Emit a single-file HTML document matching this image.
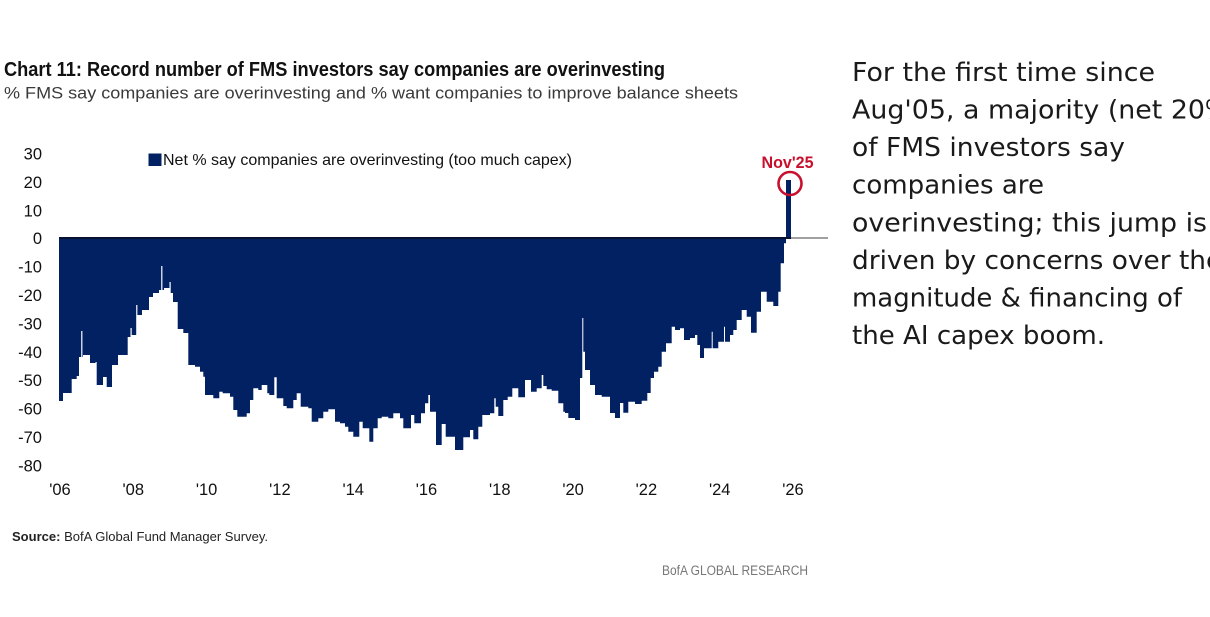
<!DOCTYPE html>
<html>
<head>
<meta charset="utf-8">
<style>
  html,body{margin:0;padding:0;background:#fff;}
  body{width:1210px;height:617px;overflow:hidden;}
  svg{display:block;}
</style>
</head>
<body>
<svg width="1210" height="617" viewBox="0 0 1210 617" xmlns="http://www.w3.org/2000/svg">
  <rect x="0" y="0" width="1210" height="617" fill="#fff"/>

  <!-- Title -->
  <text x="4" y="76" font-family="Liberation Sans, sans-serif" font-weight="bold" font-size="20" fill="#111" textLength="661" lengthAdjust="spacingAndGlyphs">Chart 11: Record number of FMS investors say companies are overinvesting</text>
  <text x="4" y="98.5" font-family="Liberation Sans, sans-serif" font-size="17" fill="#3a3a3a" textLength="734" lengthAdjust="spacingAndGlyphs">% FMS say companies are overinvesting and % want companies to improve balance sheets</text>

  <!-- Legend -->
  <rect x="148.5" y="153.5" width="13" height="12.5" fill="#022163"/>
  <text x="163" y="165" font-family="Liberation Sans, sans-serif" font-size="16" fill="#111" textLength="409" lengthAdjust="spacingAndGlyphs">Net % say companies are overinvesting (too much capex)</text>

  <!-- Y axis labels -->
  <g font-family="Liberation Sans, sans-serif" font-size="16.5" fill="#111" text-anchor="end">
    <text x="42" y="159.5">30</text>
    <text x="42" y="187.9">20</text>
    <text x="42" y="216.3">10</text>
    <text x="42" y="244.2">0</text>
    <text x="42" y="272.6">-10</text>
    <text x="42" y="301">-20</text>
    <text x="42" y="329.4">-30</text>
    <text x="42" y="357.8">-40</text>
    <text x="42" y="386.2">-50</text>
    <text x="42" y="414.6">-60</text>
    <text x="42" y="443">-70</text>
    <text x="42" y="471.4">-80</text>
  </g>

  <!-- X axis labels -->
  <g font-family="Liberation Sans, sans-serif" font-size="16.5" fill="#111" text-anchor="middle">
    <text x="60" y="495">'06</text>
    <text x="133.3" y="495">'08</text>
    <text x="206.6" y="495">'10</text>
    <text x="279.9" y="495">'12</text>
    <text x="353.2" y="495">'14</text>
    <text x="426.5" y="495">'16</text>
    <text x="499.8" y="495">'18</text>
    <text x="573.1" y="495">'20</text>
    <text x="646.4" y="495">'22</text>
    <text x="719.7" y="495">'24</text>
    <text x="793" y="495">'26</text>
  </g>

  <!-- Bars (negative area) -->
  <path fill="#022163" d="M59,238 V401
    H63 V393 H71.7 V379 H76.7 V376 H79 V357 H81.2 V331 H82.4 V357 H83 V355 H90 V363
    H95.5 V362 H96.7 V385 H103 V377 H106.7 V387 H112 V365 H118 V355 H127.7 V337
    H130.5 V328 H131.7 V335 H136.2 V305 H137.4 V315 H142 V310 H149 V297 H153 V293
    H159 V290 H161.2 V266 H162.4 V290 H164 V288 H169.5 V282 H170.7 V293 H173 V302
    H177.7 V329 H183.3 V333 H188.3 V365 H195 V366.7 H200 V371.7 H203.3 V376.7 H205 V395
    H213.3 V398.3 H219.3 V391.7 H222.7 V393.3 H230 V396.7 H233.3 V410 H237.3 V416.7
    H246.7 V413.3 H250 V400 H253.3 V388.3 H258.3 V390 H261.7 V385 H267.3 V393.3
    H269.3 V395 H274.3 V377.3 H276.7 V398.3 H283.3 V406 H286.7 V408.3 H293.3 V400
    H296.7 V393.3 H300.7 V406.7 H308.3 V408.3 H311.7 V421.7 H318.3 V418.3 H323.3 V411.7
    H328.3 V409.3 H335 V421.7 H340 V423.3 H345 V426.7 H348.3 V431.7 H353.3 V436.7
    H359.3 V421.7 H362.7 V428.3 H369.3 V441.7 H373.3 V428.3 H377.7 V418.3 H381.7 V416.7
    H388.3 V418.3 H393.3 V413.3 H400 V418.3 H403.3 V428.3 H411 V415 H414.3 V423.3
    H421 V413.3 H425 V403.3 H428.3 V395 H430 V411.7 H436 V445 H441.7 V424 H445.7 V436.7
    H455 V450 H463.3 V437.3 H470 V430 H473.3 V439.3 H478.3 V426.7 H482.3 V415 H490 V413.3
    H494.3 V398.3 H495.7 V406.7 H498.3 V416 H503.3 V400 H507.7 V396.7 H512.3 V388.3
    H518.3 V397.3 H525 V380 H531 V391.7 H536.7 V388.3 H541.7 V375 H543.3 V386 H546.7 V389.3
    H551.7 V390.7 H558.3 V403.3 H563.3 V411.7 H565 V413 H568.3 V418 H575 V420 H580 V378
    H582.3 V318 H583.3 V351.7 H585 V370 H590 V385 H595 V395 H601.7 V396.7 H610 V413
    H615 V418 H620 V403 H623.3 V412.7 H628.3 V401.7 H635 V404 H641.7 V400.7 H647.3 V393
    H650.7 V378 H654 V371.7 H658.3 V366.7 H661.7 V351.7 H666 V343.3 H671.7 V326.7
    H675 V330 H680 V328.3 H684 V340 H690 V338 H695 V335 H697.3 V345 H700 V358 H704 V348.3
    H711.7 V331.7 H712.7 V348.3 H718.3 V341.7 H724 V326.7 H725 V341.7 H730 V335 H733.3 V330
    H736.7 V320 H741.7 V310 H746.7 V316.7 H751 V332.7 H756.7 V311.7 H761 V291.7
    H766.7 V301.7 H773.3 V306 H778.3 V291.7 H780.7 V263.3 H784 V243.3 H786 V238 Z"/>

  <!-- Nov'25 positive bar -->
  <rect x="786" y="180" width="5" height="58" fill="#022163"/>

  <!-- Zero line -->
  <line x1="791" y1="238" x2="828" y2="238" stroke="#808080" stroke-width="1.5"/>
  <line x1="59" y1="238" x2="791" y2="238" stroke="#0a1030" stroke-width="2"/>

  <!-- Nov'25 annotation -->
  <circle cx="790" cy="183.5" r="11.5" fill="none" stroke="#c8102e" stroke-width="2.6"/>
  <text x="787.5" y="168" font-family="Liberation Sans, sans-serif" font-weight="bold" font-size="17" fill="#c8102e" text-anchor="middle" textLength="52" lengthAdjust="spacingAndGlyphs">Nov'25</text>

  <!-- Source / footer -->
  <text x="12" y="541" font-family="Liberation Sans, sans-serif" font-size="13" fill="#222" textLength="256" lengthAdjust="spacingAndGlyphs"><tspan font-weight="bold">Source:</tspan> BofA Global Fund Manager Survey.</text>
  <text x="808" y="575" font-family="Liberation Sans, sans-serif" font-size="13.5" fill="#777" text-anchor="end" textLength="146" lengthAdjust="spacingAndGlyphs">BofA GLOBAL RESEARCH</text>

  <!-- Right commentary -->
  <g font-family="DejaVu Sans, Liberation Sans, sans-serif" font-size="26" fill="#1a1a1a">
    <text x="852" y="81" textLength="303" lengthAdjust="spacingAndGlyphs">For the first time since</text>
    <text x="852" y="118.5" textLength="353" lengthAdjust="spacingAndGlyphs">Aug'05, a majority (net 20</text>
    <text x="1205" y="118.5" textLength="30" lengthAdjust="spacingAndGlyphs">%)</text>
    <text x="852" y="156" textLength="273" lengthAdjust="spacingAndGlyphs">of FMS investors say</text>
    <text x="852" y="193.5" textLength="192" lengthAdjust="spacingAndGlyphs">companies are</text>
    <text x="852" y="231.5" textLength="355" lengthAdjust="spacingAndGlyphs">overinvesting; this jump is</text>
    <text x="852" y="269" textLength="354" lengthAdjust="spacingAndGlyphs">driven by concerns over th</text>
    <text x="1206" y="269">e</text>
    <text x="852" y="306.5" textLength="330" lengthAdjust="spacingAndGlyphs">magnitude &amp; financing of</text>
    <text x="852" y="344" textLength="253" lengthAdjust="spacingAndGlyphs">the AI capex boom.</text>
  </g>
</svg>
</body>
</html>
